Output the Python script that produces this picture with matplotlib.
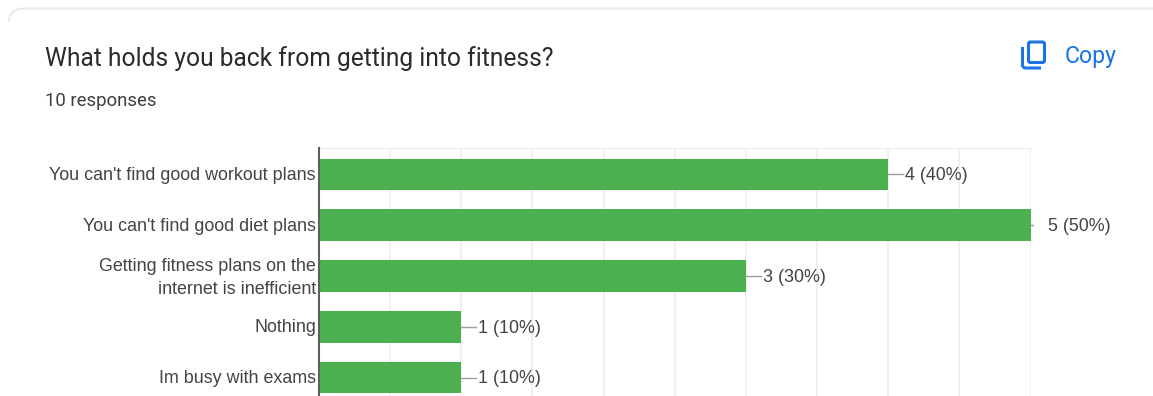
import matplotlib
matplotlib.use("Agg")
import matplotlib.pyplot as plt
from matplotlib.patches import FancyBboxPatch, PathPatch
from matplotlib.path import Path
from matplotlib.transforms import ScaledTranslation
import numpy as np

W, H = 1153, 396

question = "What holds you back from getting into fitness?"
responses = "10 responses"
categories = ["You can't find good workout plans",
              "You can't find good diet plans",
              "Getting fitness plans on the\ninternet is inefficient",
              "Nothing",
              "Im busy with exams"]
counts = [4, 5, 3, 1, 1]
percents = [40, 50, 30, 10, 10]
grid_ticks = np.arange(0, 5.5, 0.5)

fig = plt.figure(figsize=(W / 100, H / 100), dpi=100, facecolor="white")

# page layer in pixel coordinates
bg = fig.add_axes([0, 0, 1, 1])
bg.set_xlim(0, W)
bg.set_ylim(H, 0)
bg.axis("off")

# pale green rim along the top of the card, rounded at the left corner
rim = Path([(9, 22), (9, 13), (15, 8.5), (24, 8.5), (W, 8.5)],
           [Path.MOVETO, Path.CURVE4, Path.CURVE4, Path.CURVE4, Path.LINETO])
bg.add_patch(PathPatch(rim, fc="none", ec="#e4eee4", lw=1.5))

bg.text(45, 59, question, fontsize=17.75, family="Roboto", color="#2a2b2e",
        va="center", ha="left")
bg.text(45, 101, responses, fontsize=13.4, family="Roboto", color="#3c4043",
        va="center", ha="left")

# copy icon and button text
blue = "#1a73e8"
bg.add_patch(FancyBboxPatch((1028.5, 42), 16, 20.5,
                            boxstyle="round,pad=0,rounding_size=2",
                            fc="none", ec=blue, lw=2.2))
icon = Path([(1022.5, 47), (1022.5, 66), (1024.5, 68), (1041, 68)],
            [Path.MOVETO, Path.LINETO, Path.LINETO, Path.LINETO])
bg.add_patch(PathPatch(icon, fc="none", ec=blue, lw=2.2))
bg.text(1065, 57, "Copy", fontsize=16.6, family="Roboto", color=blue,
        va="center", ha="left")

# chart area: left edge at value 0, right edge at value 5
left, right, top, bottom = 319, 1030.5, 148, 396
ax = fig.add_axes([left / W, 1 - bottom / H, (right - left) / W, (bottom - top) / H])
ax.patch.set_alpha(0)
ax.set_xlim(0, 5)
step = 50.75
ax.set_ylim((bottom - 174.5) / step, (top - 174.5) / step)

y = np.arange(len(categories))
ax.set_xticks(grid_ticks)
ax.set_yticks(y)
ax.set_yticklabels(categories, family="Liberation Sans", fontsize=12.9,
                   color="#444444", linespacing=1.5)
ax.tick_params(axis="x", length=0, labelbottom=False)
ax.tick_params(axis="y", length=0, pad=2.2)
for label in ax.get_yticklabels():
    label.set_multialignment("right")
    # nudge upward, the wrapped label a little more
    shift = 3 if "\n" in label.get_text() else 1
    label.set_transform(label.get_transform()
                        + ScaledTranslation(0, shift / 100, fig.dpi_scale_trans))

ax.grid(axis="x", color="#f0f0f0", lw=1.4)
ax.set_axisbelow(True)
for side in ["right", "bottom"]:
    ax.spines[side].set_visible(False)
ax.spines["top"].set_color("#f0f0f0")
ax.spines["top"].set_linewidth(1.0)
ax.spines["left"].set_color("#5f5f5f")
ax.spines["left"].set_linewidth(1.5)
ax.spines["left"].set_zorder(5)

ax.barh(y, counts, height=31.5 / step, color="#4caf50", edgecolor="none", zorder=3)

# value labels with short leader lines
unit = (right - left) / 5
for yi, c, p in zip(y, counts, percents):
    end = min(c + 15 / unit, 5 + 2 / unit)
    ax.plot([c, end], [yi, yi], color="#9e9e9e", lw=1.0, clip_on=False, zorder=2)
    ax.annotate(f"{c} ({p}%)", xy=(c, yi), xytext=(17 * 0.72, -1.0),
                textcoords="offset points", family="Liberation Sans",
                fontsize=12.9, color="#444444", va="center", ha="left",
                annotation_clip=False)

fig.savefig("out.png", dpi=100)
